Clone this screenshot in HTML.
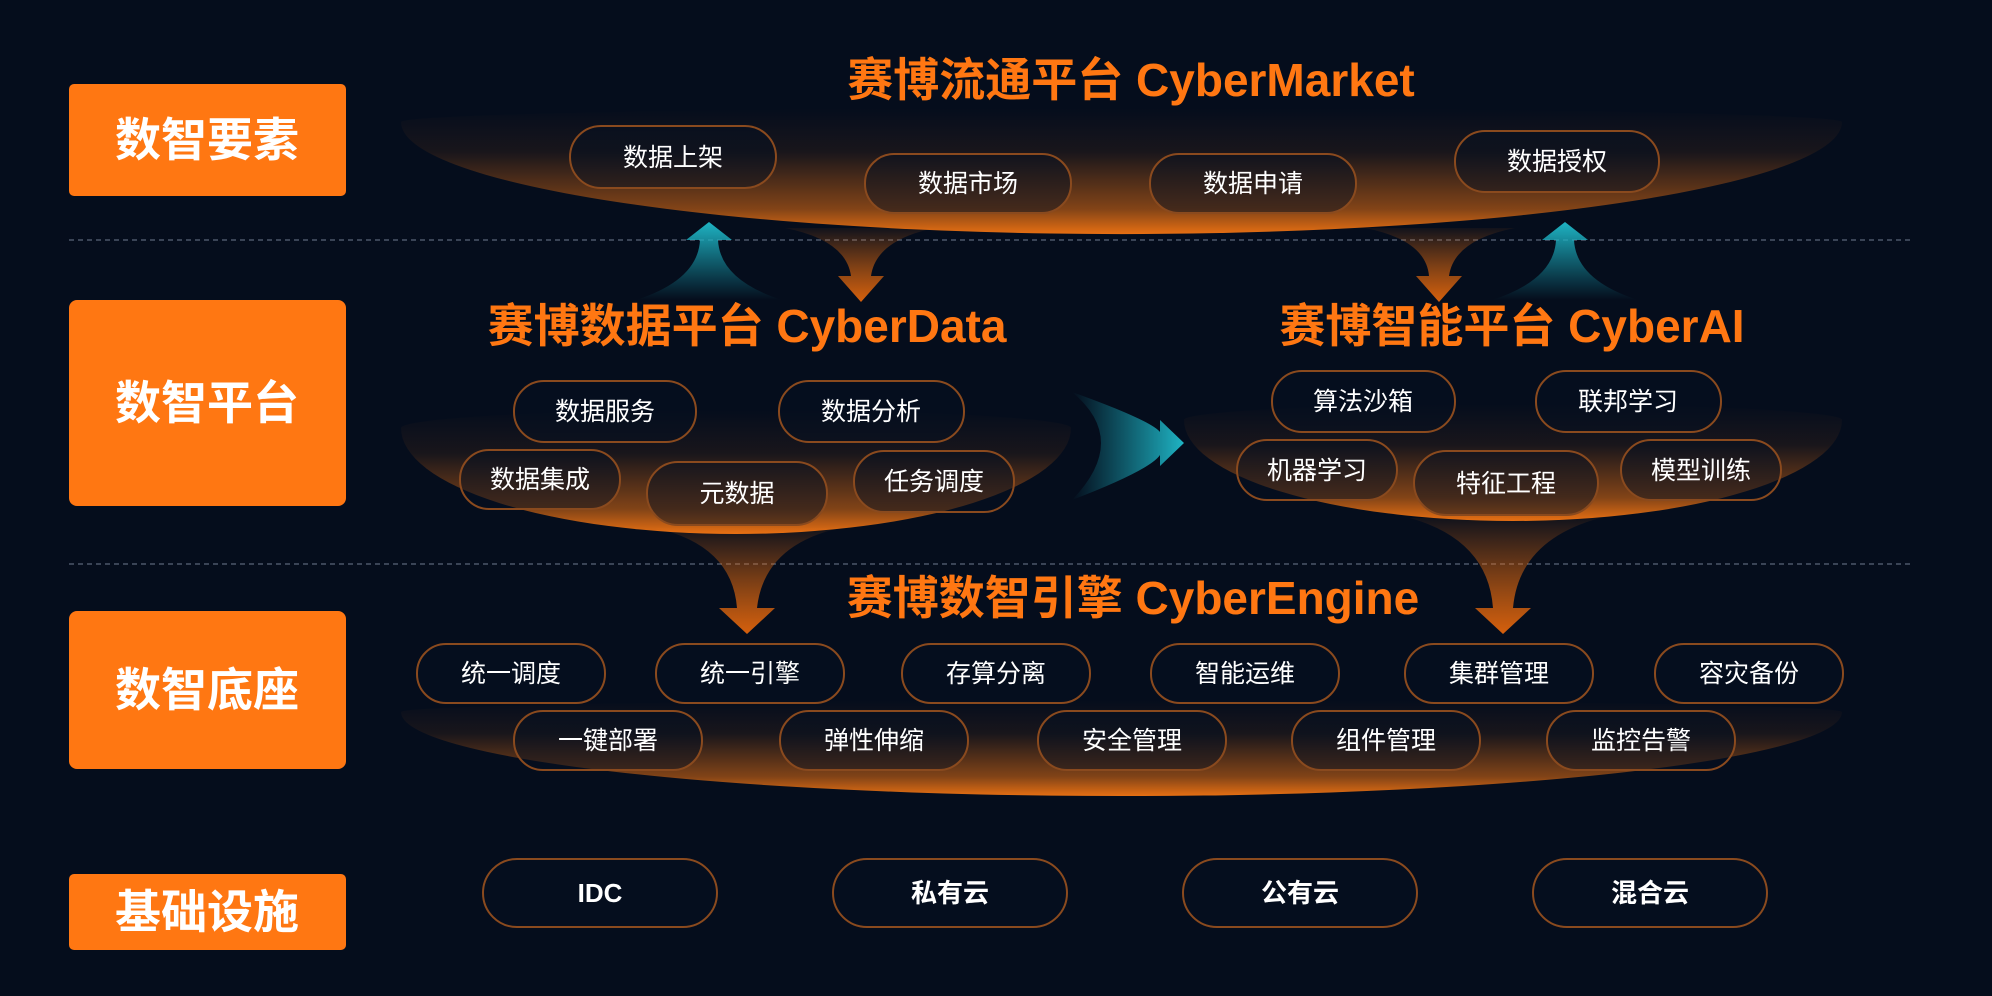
<!DOCTYPE html>
<html><head><meta charset="utf-8"><style>
html,body{margin:0;padding:0;background:#050d1c;}
svg{display:block}
text{font-family:"Liberation Sans","Noto Sans CJK SC",sans-serif;}
</style></head><body>
<svg width="1992" height="996" viewBox="0 0 1992 996" xmlns="http://www.w3.org/2000/svg">
<defs>
<linearGradient id="bowl" x1="0" y1="0" x2="0" y2="1">
<stop offset="0" stop-color="#ff7a12" stop-opacity="0"/>
<stop offset="0.35" stop-color="#ff7a12" stop-opacity="0.08"/>
<stop offset="0.8" stop-color="#ff7a12" stop-opacity="0.5"/>
<stop offset="1" stop-color="#ff7a12" stop-opacity="0.9"/>
</linearGradient>
<linearGradient id="down" x1="0" y1="0" x2="0" y2="1">
<stop offset="0" stop-color="#ff7a12" stop-opacity="0.05"/>
<stop offset="1" stop-color="#e0640c" stop-opacity="0.95"/>
</linearGradient>
<linearGradient id="up" x1="0" y1="1" x2="0" y2="0">
<stop offset="0" stop-color="#17a7b8" stop-opacity="0"/>
<stop offset="1" stop-color="#1fb4c4" stop-opacity="1"/>
</linearGradient>
<linearGradient id="right" x1="0" y1="0" x2="1" y2="0">
<stop offset="0" stop-color="#17a7b8" stop-opacity="0"/>
<stop offset="1" stop-color="#1fb4c4" stop-opacity="1"/>
</linearGradient>
</defs>

<g fill="#ff7712">
<rect x="69" y="84" width="277" height="112" rx="5"/>
<rect x="69" y="300" width="277" height="206" rx="8"/>
<rect x="69" y="611" width="277" height="158" rx="8"/>
<rect x="69" y="874" width="277" height="76" rx="5"/>
</g>
<g fill="#fff" font-size="46" font-weight="bold" text-anchor="middle">
<text x="207" y="156">数智要素</text>
<text x="207" y="419">数智平台</text>
<text x="207" y="706">数智底座</text>
<text x="207" y="928">基础设施</text>
</g>

<g stroke="#3a4456" stroke-width="2" stroke-dasharray="5,4">
<line x1="69" y1="240" x2="1913" y2="240"/>
<line x1="69" y1="564" x2="1913" y2="564"/>
</g>

<path d="M401,122 A720,14 0 0 1 1842,122 A720,112 0 0 1 401,122 Z" fill="url(#bowl)"/>
<path d="M401,428 A335,18 0 0 1 1071,428 A335,106 0 0 1 401,428 Z" fill="url(#bowl)"/>
<path d="M1184,420 A329,16 0 0 1 1842,420 A329,101 0 0 1 1184,420 Z" fill="url(#bowl)"/>
<path d="M401,712 A720,12 0 0 1 1842,712 A720,84 0 0 1 401,712 Z" fill="url(#bowl)"/>

<g fill="url(#down)">
<path d="M785,228 Q846,240 851,276 L838,276 L861,302 L884,276 L871,276 Q876,240 935,228 Z"/>
<path d="M1365,228 Q1426,240 1429,276 L1416,276 L1439,302 L1462,276 L1449,276 Q1454,240 1515,228 Z"/>
<path d="M655,528 Q732,545 737,608 L719,608 L747,634 L775,608 L757,608 Q764,545 840,528 Z"/>
<path d="M1410,518 Q1488,540 1493,608 L1475,608 L1503,634 L1531,608 L1513,608 Q1519,540 1600,518 Z"/>
</g>
<g fill="url(#up)">
<path d="M636,300 Q698,280 700,240 L686,240 L709,222 L732,240 L718,240 Q720,280 782,300 Z"/>
<path d="M1492,300 Q1554,280 1556,240 L1542,240 L1565,222 L1588,240 L1574,240 Q1576,280 1638,300 Z"/>
</g>
<path d="M1072,392 Q1150,420 1160,432 L1160,420 L1184,443 L1160,466 L1160,455 Q1150,470 1072,500 Q1130,440 1072,392 Z" fill="url(#right)"/>

<g fill="#ff7712" font-size="46" font-weight="bold" text-anchor="middle">
<text x="1131" y="96">赛博流通平台 CyberMarket</text>
<text x="747" y="342">赛博数据平台 CyberData</text>
<text x="1512" y="342">赛博智能平台 CyberAI</text>
<text x="1133" y="614">赛博数智引擎 CyberEngine</text>
</g>

<g fill="#06101f" fill-opacity="0.5" stroke="#8a4a1e" stroke-width="2">
<rect x="570" y="126" width="206" height="62" rx="31"/>
<rect x="865" y="154" width="206" height="59" rx="29"/>
<rect x="1150" y="154" width="206" height="59" rx="29"/>
<rect x="1455" y="131" width="204" height="61" rx="30"/>

<rect x="514" y="381" width="182" height="61" rx="30"/>
<rect x="779" y="381" width="185" height="61" rx="30"/>
<rect x="460" y="450" width="160" height="59" rx="29"/>
<rect x="647" y="462" width="180" height="63" rx="31"/>
<rect x="854" y="451" width="160" height="61" rx="30"/>

<rect x="1272" y="371" width="183" height="61" rx="30"/>
<rect x="1536" y="371" width="185" height="61" rx="30"/>
<rect x="1237" y="440" width="160" height="60" rx="30"/>
<rect x="1414" y="451" width="184" height="64" rx="32"/>
<rect x="1621" y="440" width="160" height="60" rx="30"/>

<rect x="417" y="644" width="188" height="59" rx="29"/>
<rect x="656" y="644" width="188" height="59" rx="29"/>
<rect x="902" y="644" width="188" height="59" rx="29"/>
<rect x="1151" y="644" width="188" height="59" rx="29"/>
<rect x="1405" y="644" width="188" height="59" rx="29"/>
<rect x="1655" y="644" width="188" height="59" rx="29"/>
<rect x="514" y="711" width="188" height="59" rx="29"/>
<rect x="780" y="711" width="188" height="59" rx="29"/>
<rect x="1038" y="711" width="188" height="59" rx="29"/>
<rect x="1292" y="711" width="188" height="59" rx="29"/>
<rect x="1547" y="711" width="188" height="59" rx="29"/>

<rect x="483" y="859" width="234" height="68" rx="34"/>
<rect x="833" y="859" width="234" height="68" rx="34"/>
<rect x="1183" y="859" width="234" height="68" rx="34"/>
<rect x="1533" y="859" width="234" height="68" rx="34"/>
</g>

<g fill="#fff" font-size="25" text-anchor="middle">
<text x="673" y="166">数据上架</text>
<text x="968" y="192">数据市场</text>
<text x="1253" y="192">数据申请</text>
<text x="1557" y="170">数据授权</text>

<text x="605" y="420">数据服务</text>
<text x="871" y="420">数据分析</text>
<text x="540" y="488">数据集成</text>
<text x="737" y="502">元数据</text>
<text x="934" y="490">任务调度</text>

<text x="1363" y="410">算法沙箱</text>
<text x="1628" y="410">联邦学习</text>
<text x="1317" y="479">机器学习</text>
<text x="1506" y="492">特征工程</text>
<text x="1701" y="479">模型训练</text>

<text x="511" y="682">统一调度</text>
<text x="750" y="682">统一引擎</text>
<text x="996" y="682">存算分离</text>
<text x="1245" y="682">智能运维</text>
<text x="1499" y="682">集群管理</text>
<text x="1749" y="682">容灾备份</text>
<text x="608" y="749">一键部署</text>
<text x="874" y="749">弹性伸缩</text>
<text x="1132" y="749">安全管理</text>
<text x="1386" y="749">组件管理</text>
<text x="1641" y="749">监控告警</text>
</g>
<g fill="#fff" font-size="26" font-weight="bold" text-anchor="middle">
<text x="600" y="902">IDC</text>
<text x="950" y="902">私有云</text>
<text x="1300" y="902">公有云</text>
<text x="1650" y="902">混合云</text>
</g>
</svg>
</body></html>
